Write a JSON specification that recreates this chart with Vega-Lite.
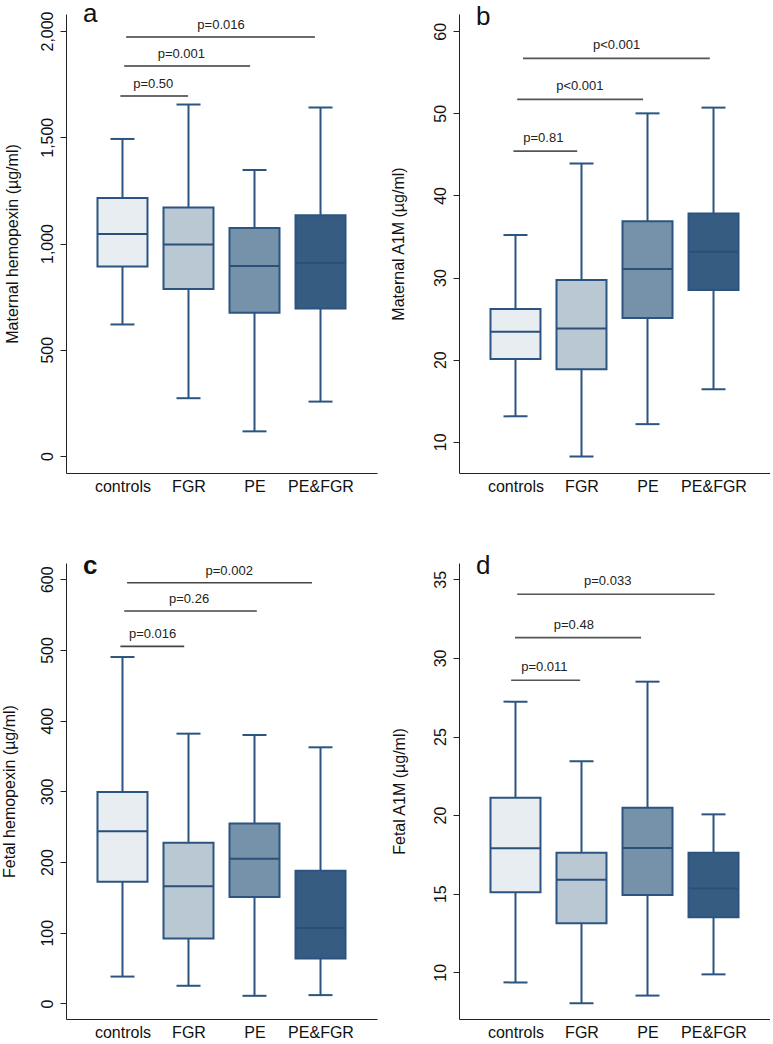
{
  "$schema": "https://vega.github.io/schema/vega-lite/v6.json",
  "padding": {"left": 1, "top": 0, "right": 0, "bottom": 0},
  "bounds": "flush",
  "columns": 2,
  "spacing": {"row": 90, "column": 82},
  "datasets": {
    "box": [
      {"panel": "a", "group": "controls", "pos": 1, "low": 619, "q1": 892, "median": 1045, "q3": 1214, "high": 1492},
      {"panel": "a", "group": "FGR", "pos": 2, "low": 272, "q1": 786, "median": 995, "q3": 1170, "high": 1654},
      {"panel": "a", "group": "PE", "pos": 3, "low": 116, "q1": 674, "median": 894, "q3": 1073, "high": 1346},
      {"panel": "a", "group": "PE&FGR", "pos": 4, "low": 256, "q1": 694, "median": 908, "q3": 1133, "high": 1640},
      {"panel": "b", "group": "controls", "pos": 1, "low": 13.1, "q1": 20.07, "median": 23.4, "q3": 26.16, "high": 35.18},
      {"panel": "b", "group": "FGR", "pos": 2, "low": 8.2, "q1": 18.85, "median": 23.8, "q3": 29.7, "high": 43.9},
      {"panel": "b", "group": "PE", "pos": 3, "low": 12.15, "q1": 25.07, "median": 31.04, "q3": 36.85, "high": 50.0},
      {"panel": "b", "group": "PE&FGR", "pos": 4, "low": 16.4, "q1": 28.5, "median": 33.15, "q3": 37.8, "high": 50.7},
      {"panel": "c", "group": "controls", "pos": 1, "low": 38, "q1": 172, "median": 243.4, "q3": 299, "high": 490},
      {"panel": "c", "group": "FGR", "pos": 2, "low": 25, "q1": 92, "median": 165.6, "q3": 227.4, "high": 381.6},
      {"panel": "c", "group": "PE", "pos": 3, "low": 10.8, "q1": 150.5, "median": 204.7, "q3": 254.7, "high": 379.7},
      {"panel": "c", "group": "PE&FGR", "pos": 4, "low": 11.8, "q1": 63.7, "median": 106.6, "q3": 187.7, "high": 362.3},
      {"panel": "d", "group": "controls", "pos": 1, "low": 9.36, "q1": 15.09, "median": 17.89, "q3": 21.11, "high": 27.22},
      {"panel": "d", "group": "FGR", "pos": 2, "low": 8.03, "q1": 13.12, "median": 15.89, "q3": 17.61, "high": 23.42},
      {"panel": "d", "group": "PE", "pos": 3, "low": 8.52, "q1": 14.92, "median": 17.91, "q3": 20.47, "high": 28.49},
      {"panel": "d", "group": "PE&FGR", "pos": 4, "low": 9.87, "q1": 13.5, "median": 15.34, "q3": 17.61, "high": 20.05}
    ],
    "brackets": [
      {"panel": "a", "label": "p=0.50", "x1": 0.968, "x2": 1.994, "xm": 1.466, "y": 1694},
      {"panel": "a", "label": "p=0.001", "x1": 1.026, "x2": 2.933, "xm": 1.892, "y": 1835},
      {"panel": "a", "label": "p=0.016", "x1": 1.056, "x2": 3.915, "xm": 2.493, "y": 1972},
      {"panel": "b", "label": "p=0.81", "x1": 0.968, "x2": 1.935, "xm": 1.422, "y": 45.4},
      {"panel": "b", "label": "p<0.001", "x1": 1.026, "x2": 2.933, "xm": 1.975, "y": 51.7},
      {"panel": "b", "label": "p<0.001", "x1": 1.114, "x2": 3.944, "xm": 2.532, "y": 56.7},
      {"panel": "c", "label": "p=0.016", "x1": 0.968, "x2": 1.935, "xm": 1.456, "y": 505},
      {"panel": "c", "label": "p=0.26", "x1": 1.026, "x2": 3.035, "xm": 2.009, "y": 555},
      {"panel": "c", "label": "p=0.002", "x1": 1.07, "x2": 3.871, "xm": 2.617, "y": 595},
      {"panel": "d", "label": "p=0.011", "x1": 0.934, "x2": 1.98, "xm": 1.437, "y": 28.58},
      {"panel": "d", "label": "p=0.48", "x1": 0.993, "x2": 2.903, "xm": 1.884, "y": 31.29},
      {"panel": "d", "label": "p=0.033", "x1": 1.026, "x2": 4.018, "xm": 2.397, "y": 34.05}
    ]
  },
  "config": {
    "font": "Liberation Sans",
    "view": {"stroke": null},
    "axis": {
      "grid": false,
      "domainColor": "#222222",
      "tickColor": "#222222",
      "labelColor": "#111111",
      "titleColor": "#111111",
      "labelFont": "Liberation Sans",
      "titleFont": "Liberation Sans",
      "labelFontSize": 16,
      "titleFontSize": 16,
      "titleFontWeight": "normal"
    },
    "axisY": {"labelAngle": 270, "tickSize": 6, "labelPadding": 5, "titlePadding": 17},
    "axisX": {"ticks": false, "labelPadding": 5},
    "title": {"anchor": "start", "fontSize": 26, "fontWeight": "normal", "frame": "group", "offset": -16, "dx": 17, "baseline": "alphabetic", "color": "#111111", "font": "Liberation Sans"}
  },
  "concat": [
    {
      "width": 311, "height": 459,
      "title": "a",
      "layer": [
        {"data": {"name": "box"}, "transform": [{"filter": "datum.panel == 'a'"}], "mark": {"type": "rule", "color": "#2b5580", "strokeWidth": 2},
         "encoding": {"x": {"field": "pos", "type": "quantitative", "scale": {"domain": [0.22, 4.78], "nice": false, "zero": false}, "axis": {"title": null, "values": [1, 2, 3, 4], "labelExpr": "datum.value === 1 ? 'controls' : datum.value === 2 ? 'FGR' : datum.value === 3 ? 'PE' : 'PE&FGR'"}},
                      "y": {"field": "low", "type": "quantitative", "scale": {"domain": [-80, 2080], "nice": false, "zero": false}, "axis": {"title": "Maternal hemopexin (µg/ml)", "titlePadding": 18.5, "values": [0, 500, 1000, 1500, 2000], "format": ",.0f"}},
                      "y2": {"field": "high"}}},
        {"data": {"name": "box"}, "transform": [{"filter": "datum.panel == 'a'"}], "mark": {"type": "bar", "size": 50, "stroke": "#2b5580", "strokeWidth": 2},
         "encoding": {"x": {"field": "pos", "type": "quantitative"}, "y": {"field": "q1", "type": "quantitative"}, "y2": {"field": "q3"},
                      "fill": {"field": "group", "type": "nominal", "legend": null, "scale": {"domain": ["controls", "FGR", "PE", "PE&FGR"], "range": ["#e8edf2", "#bac8d4", "#7691aa", "#365c81"]}}}},
        {"data": {"name": "box"}, "transform": [{"filter": "datum.panel == 'a'"}], "mark": {"type": "tick", "orient": "horizontal", "size": 50, "thickness": 2, "color": "#2a5079", "opacity": 1},
         "encoding": {"x": {"field": "pos", "type": "quantitative"}, "y": {"field": "median", "type": "quantitative"}}},
        {"data": {"name": "box"}, "transform": [{"filter": "datum.panel == 'a'"}], "mark": {"type": "tick", "orient": "horizontal", "size": 24, "thickness": 2, "color": "#2b5580", "opacity": 1},
         "encoding": {"x": {"field": "pos", "type": "quantitative"}, "y": {"field": "low", "type": "quantitative"}}},
        {"data": {"name": "box"}, "transform": [{"filter": "datum.panel == 'a'"}], "mark": {"type": "tick", "orient": "horizontal", "size": 24, "thickness": 2, "color": "#2b5580", "opacity": 1},
         "encoding": {"x": {"field": "pos", "type": "quantitative"}, "y": {"field": "high", "type": "quantitative"}}},
        {"data": {"name": "brackets"}, "transform": [{"filter": "datum.panel == 'a'"}], "mark": {"type": "rule", "color": "#3a3a3a", "strokeWidth": 1.6},
         "encoding": {"x": {"field": "x1", "type": "quantitative"}, "x2": {"field": "x2"}, "y": {"field": "y", "type": "quantitative"}}},
        {"data": {"name": "brackets"}, "transform": [{"filter": "datum.panel == 'a'"}], "mark": {"type": "text", "fontSize": 13, "color": "#222222", "baseline": "middle", "dy": -12},
         "encoding": {"x": {"field": "xm", "type": "quantitative"}, "y": {"field": "y", "type": "quantitative"}, "text": {"field": "label"}}}
      ]
    },
    {
      "width": 311, "height": 459,
      "title": "b",
      "layer": [
        {"data": {"name": "box"}, "transform": [{"filter": "datum.panel == 'b'"}], "mark": {"type": "rule", "color": "#2b5580", "strokeWidth": 2},
         "encoding": {"x": {"field": "pos", "type": "quantitative", "scale": {"domain": [0.22, 4.78], "nice": false, "zero": false}, "axis": {"title": null, "values": [1, 2, 3, 4], "labelExpr": "datum.value === 1 ? 'controls' : datum.value === 2 ? 'FGR' : datum.value === 3 ? 'PE' : 'PE&FGR'"}},
                      "y": {"field": "low", "type": "quantitative", "scale": {"domain": [6.2, 62.1], "nice": false, "zero": false}, "axis": {"title": "Maternal A1M (µg/ml)", "titlePadding": 26, "values": [10, 20, 30, 40, 50, 60]}},
                      "y2": {"field": "high"}}},
        {"data": {"name": "box"}, "transform": [{"filter": "datum.panel == 'b'"}], "mark": {"type": "bar", "size": 50, "stroke": "#2b5580", "strokeWidth": 2},
         "encoding": {"x": {"field": "pos", "type": "quantitative"}, "y": {"field": "q1", "type": "quantitative"}, "y2": {"field": "q3"},
                      "fill": {"field": "group", "type": "nominal", "legend": null, "scale": {"domain": ["controls", "FGR", "PE", "PE&FGR"], "range": ["#e8edf2", "#bac8d4", "#7691aa", "#365c81"]}}}},
        {"data": {"name": "box"}, "transform": [{"filter": "datum.panel == 'b'"}], "mark": {"type": "tick", "orient": "horizontal", "size": 50, "thickness": 2, "color": "#2a5079", "opacity": 1},
         "encoding": {"x": {"field": "pos", "type": "quantitative"}, "y": {"field": "median", "type": "quantitative"}}},
        {"data": {"name": "box"}, "transform": [{"filter": "datum.panel == 'b'"}], "mark": {"type": "tick", "orient": "horizontal", "size": 24, "thickness": 2, "color": "#2b5580", "opacity": 1},
         "encoding": {"x": {"field": "pos", "type": "quantitative"}, "y": {"field": "low", "type": "quantitative"}}},
        {"data": {"name": "box"}, "transform": [{"filter": "datum.panel == 'b'"}], "mark": {"type": "tick", "orient": "horizontal", "size": 24, "thickness": 2, "color": "#2b5580", "opacity": 1},
         "encoding": {"x": {"field": "pos", "type": "quantitative"}, "y": {"field": "high", "type": "quantitative"}}},
        {"data": {"name": "brackets"}, "transform": [{"filter": "datum.panel == 'b'"}], "mark": {"type": "rule", "color": "#555555", "strokeWidth": 1.6},
         "encoding": {"x": {"field": "x1", "type": "quantitative"}, "x2": {"field": "x2"}, "y": {"field": "y", "type": "quantitative"}}},
        {"data": {"name": "brackets"}, "transform": [{"filter": "datum.panel == 'b'"}], "mark": {"type": "text", "fontSize": 13, "color": "#222222", "baseline": "middle", "dy": -13},
         "encoding": {"x": {"field": "xm", "type": "quantitative"}, "y": {"field": "y", "type": "quantitative"}, "text": {"field": "label"}}}
      ]
    },
    {
      "width": 311, "height": 456,
      "title": {"text": "c", "fontWeight": "bold"},
      "layer": [
        {"data": {"name": "box"}, "transform": [{"filter": "datum.panel == 'c'"}], "mark": {"type": "rule", "color": "#2b5580", "strokeWidth": 2},
         "encoding": {"x": {"field": "pos", "type": "quantitative", "scale": {"domain": [0.22, 4.78], "nice": false, "zero": false}, "axis": {"title": null, "values": [1, 2, 3, 4], "labelExpr": "datum.value === 1 ? 'controls' : datum.value === 2 ? 'FGR' : datum.value === 3 ? 'PE' : 'PE&FGR'"}},
                      "y": {"field": "low", "type": "quantitative", "scale": {"domain": [-22, 623], "nice": false, "zero": false}, "axis": {"title": "Fetal hemopexin (µg/ml)", "titlePadding": 22, "values": [0, 100, 200, 300, 400, 500, 600]}},
                      "y2": {"field": "high"}}},
        {"data": {"name": "box"}, "transform": [{"filter": "datum.panel == 'c'"}], "mark": {"type": "bar", "size": 50, "stroke": "#2b5580", "strokeWidth": 2},
         "encoding": {"x": {"field": "pos", "type": "quantitative"}, "y": {"field": "q1", "type": "quantitative"}, "y2": {"field": "q3"},
                      "fill": {"field": "group", "type": "nominal", "legend": null, "scale": {"domain": ["controls", "FGR", "PE", "PE&FGR"], "range": ["#e8edf2", "#bac8d4", "#7691aa", "#365c81"]}}}},
        {"data": {"name": "box"}, "transform": [{"filter": "datum.panel == 'c'"}], "mark": {"type": "tick", "orient": "horizontal", "size": 50, "thickness": 2, "color": "#2a5079", "opacity": 1},
         "encoding": {"x": {"field": "pos", "type": "quantitative"}, "y": {"field": "median", "type": "quantitative"}}},
        {"data": {"name": "box"}, "transform": [{"filter": "datum.panel == 'c'"}], "mark": {"type": "tick", "orient": "horizontal", "size": 24, "thickness": 2, "color": "#2b5580", "opacity": 1},
         "encoding": {"x": {"field": "pos", "type": "quantitative"}, "y": {"field": "low", "type": "quantitative"}}},
        {"data": {"name": "box"}, "transform": [{"filter": "datum.panel == 'c'"}], "mark": {"type": "tick", "orient": "horizontal", "size": 24, "thickness": 2, "color": "#2b5580", "opacity": 1},
         "encoding": {"x": {"field": "pos", "type": "quantitative"}, "y": {"field": "high", "type": "quantitative"}}},
        {"data": {"name": "brackets"}, "transform": [{"filter": "datum.panel == 'c'"}], "mark": {"type": "rule", "color": "#444444", "strokeWidth": 1.6},
         "encoding": {"x": {"field": "x1", "type": "quantitative"}, "x2": {"field": "x2"}, "y": {"field": "y", "type": "quantitative"}}},
        {"data": {"name": "brackets"}, "transform": [{"filter": "datum.panel == 'c'"}], "mark": {"type": "text", "fontSize": 13, "color": "#222222", "baseline": "middle", "dy": -12},
         "encoding": {"x": {"field": "xm", "type": "quantitative"}, "y": {"field": "y", "type": "quantitative"}, "text": {"field": "label"}}}
      ]
    },
    {
      "width": 311, "height": 456,
      "title": "d",
      "layer": [
        {"data": {"name": "box"}, "transform": [{"filter": "datum.panel == 'd'"}], "mark": {"type": "rule", "color": "#2b5580", "strokeWidth": 2},
         "encoding": {"x": {"field": "pos", "type": "quantitative", "scale": {"domain": [0.22, 4.78], "nice": false, "zero": false}, "axis": {"title": null, "values": [1, 2, 3, 4], "labelExpr": "datum.value === 1 ? 'controls' : datum.value === 2 ? 'FGR' : datum.value === 3 ? 'PE' : 'PE&FGR'"}},
                      "y": {"field": "low", "type": "quantitative", "scale": {"domain": [7.03, 36.04], "nice": false, "zero": false}, "axis": {"title": "Fetal A1M (µg/ml)", "titlePadding": 24.5, "values": [10, 15, 20, 25, 30, 35]}},
                      "y2": {"field": "high"}}},
        {"data": {"name": "box"}, "transform": [{"filter": "datum.panel == 'd'"}], "mark": {"type": "bar", "size": 50, "stroke": "#2b5580", "strokeWidth": 2},
         "encoding": {"x": {"field": "pos", "type": "quantitative"}, "y": {"field": "q1", "type": "quantitative"}, "y2": {"field": "q3"},
                      "fill": {"field": "group", "type": "nominal", "legend": null, "scale": {"domain": ["controls", "FGR", "PE", "PE&FGR"], "range": ["#e8edf2", "#bac8d4", "#7691aa", "#365c81"]}}}},
        {"data": {"name": "box"}, "transform": [{"filter": "datum.panel == 'd'"}], "mark": {"type": "tick", "orient": "horizontal", "size": 50, "thickness": 2, "color": "#2a5079", "opacity": 1},
         "encoding": {"x": {"field": "pos", "type": "quantitative"}, "y": {"field": "median", "type": "quantitative"}}},
        {"data": {"name": "box"}, "transform": [{"filter": "datum.panel == 'd'"}], "mark": {"type": "tick", "orient": "horizontal", "size": 24, "thickness": 2, "color": "#2b5580", "opacity": 1},
         "encoding": {"x": {"field": "pos", "type": "quantitative"}, "y": {"field": "low", "type": "quantitative"}}},
        {"data": {"name": "box"}, "transform": [{"filter": "datum.panel == 'd'"}], "mark": {"type": "tick", "orient": "horizontal", "size": 24, "thickness": 2, "color": "#2b5580", "opacity": 1},
         "encoding": {"x": {"field": "pos", "type": "quantitative"}, "y": {"field": "high", "type": "quantitative"}}},
        {"data": {"name": "brackets"}, "transform": [{"filter": "datum.panel == 'd'"}], "mark": {"type": "rule", "color": "#555555", "strokeWidth": 1.6},
         "encoding": {"x": {"field": "x1", "type": "quantitative"}, "x2": {"field": "x2"}, "y": {"field": "y", "type": "quantitative"}}},
        {"data": {"name": "brackets"}, "transform": [{"filter": "datum.panel == 'd'"}], "mark": {"type": "text", "fontSize": 13, "color": "#222222", "baseline": "middle", "dy": -13},
         "encoding": {"x": {"field": "xm", "type": "quantitative"}, "y": {"field": "y", "type": "quantitative"}, "text": {"field": "label"}}}
      ]
    }
  ]
}
